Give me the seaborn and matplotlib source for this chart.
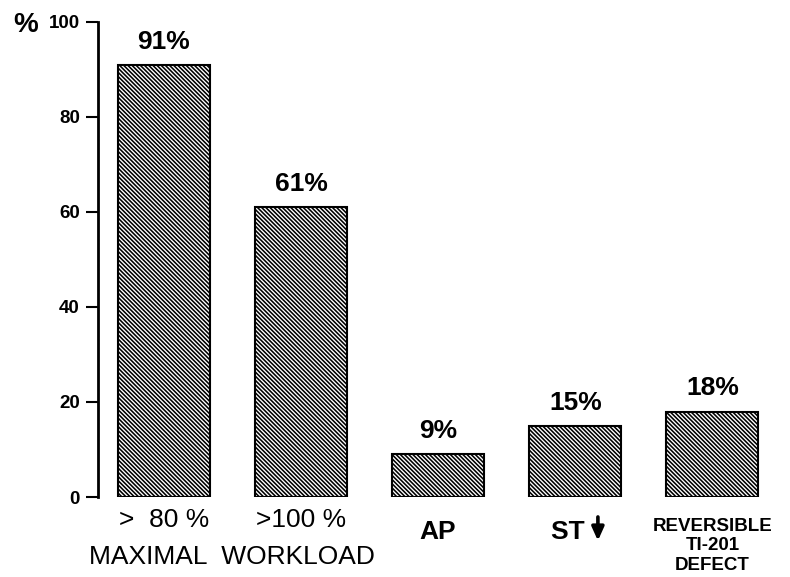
import matplotlib
matplotlib.use("Agg")
import matplotlib.pyplot as plt
import seaborn as sns
import pandas as pd

# values
categories = [">  80 %", ">100 %", "AP", "ST  ", "REVERSIBLE\nTI-201\nDEFECT"]
percent = [91, 61, 9, 15, 18]
group_label = "MAXIMAL  WORKLOAD"
y_ticks = [0, 20, 40, 60, 80, 100]

sns.set_style("ticks")
plt.rcParams["font.family"] = ["Liberation Sans", "DejaVu Sans"]
plt.rcParams["hatch.linewidth"] = 1.15
plt.rcParams["hatch.color"] = "black"

df = pd.DataFrame({"cat": categories, "pct": percent})

fig = plt.figure(figsize=(7.9, 5.77), dpi=100)
ax = fig.add_axes([98 / 790, 1 - 497 / 577, (781 - 98) / 790, (497 - 22) / 577])

sns.barplot(data=df, x="cat", y="pct", color="white", edgecolor="black",
            linewidth=1.5, width=0.67, hatch="\\" * 8, saturation=1, ax=ax)

for c in ax.containers:
    ax.bar_label(c, fmt="%d%%", padding=8, fontsize=19, fontweight="bold", color="black")

ax.set_xlim(-0.48, 4.5)
ax.set_ylim(0, 100)
ax.set_yticks(y_ticks)
ax.set_yticklabels([str(t) for t in y_ticks], fontsize=13.5, fontweight="bold")
ax.tick_params(axis="y", direction="out", length=9, width=1.5, pad=4, colors="black")
ax.set_xticks(range(len(categories)))
ax.set_xticklabels([""] * len(categories))
ax.tick_params(axis="x", length=0)
ax.set_xlabel("")
ax.set_ylabel("")

for spine in ["top", "right", "bottom"]:
    ax.spines[spine].set_visible(False)
ax.spines["left"].set_linewidth(2)
ax.spines["left"].set_color("black")

# category labels under the bars (they sit at slightly different heights)
weights = ["normal", "normal", "bold", "bold", "bold"]
sizes = [19, 19, 19, 19, 13.5]
tops = [-0.024, -0.024, -0.048, -0.048, -0.044]
xform = ax.get_xaxis_transform()
for i, (cat, w, s, t) in enumerate(zip(categories, weights, sizes, tops)):
    ax.text(i, t, cat, transform=xform, ha="center", va="top",
            fontsize=s, fontweight=w, linespacing=1.2, color="black")

# down arrow after "ST"
ax.annotate("", xy=(3.165, -0.092), xytext=(3.165, -0.042),
            xycoords=xform, textcoords=xform,
            arrowprops=dict(arrowstyle="-|>,head_length=0.4,head_width=0.18",
                            mutation_scale=20, lw=2.6, color="black",
                            shrinkA=0, shrinkB=0),
            annotation_clip=False)

# shared label under the first two bars
ax.text(0.5, -0.1, group_label, transform=xform,
        ha="center", va="top", fontsize=19, color="black")

# "%" unit marker at top-left
fig.text(13 / 790, 1 - 25 / 577, "%", fontsize=20, fontweight="bold",
         ha="left", va="center", color="black")

fig.savefig("out.png", dpi=100)
